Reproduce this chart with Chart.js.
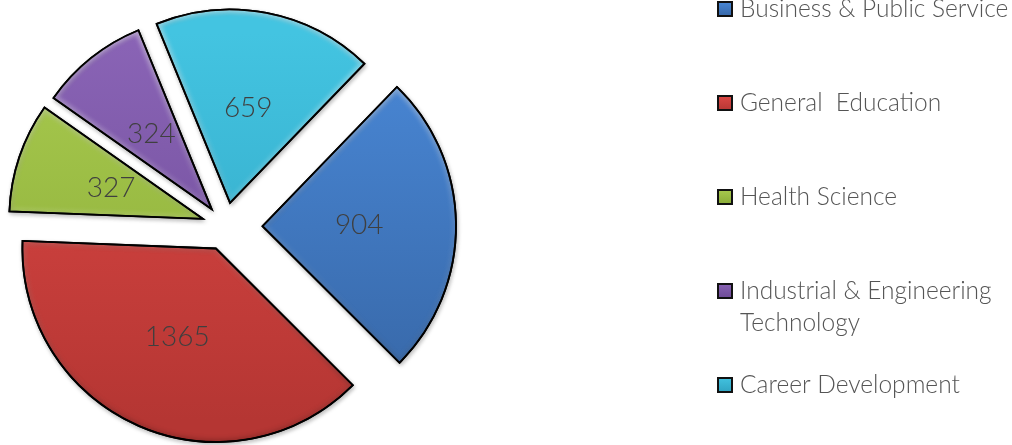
<!DOCTYPE html>
<html><head><meta charset="utf-8">
<script src="https://cdn.jsdelivr.net/npm/chart.js@4/dist/chart.umd.min.js"></script>
<style>html,body{margin:0;padding:0;background:#fff;overflow:hidden}#wrap{width:1012px;height:445px;position:relative}</style>
</head><body><div id="wrap"><canvas id="c" width="1012" height="445"></canvas></div>
<script>
const categories = ['Business & Public Service', 'General  Education', 'Health Science', ['Industrial & Engineering', 'Technology'], 'Career Development'];
const values = [904, 1365, 327, 324, 659];
const topColors = ['#4a89d8', '#df4946', '#a9cb4f', '#8a64b6', '#43c4e1'];
const bottomColors = ['#3665a4', '#b53633', '#88a936', '#6b4994', '#2fa2c0'];
const explodeDist = [37, 24, 24, 22, 24];

const PIE_R = 193.5;
const FONT = 'Lato, "Open Sans", sans-serif';

function sliceGradient(c) {
  const i = c.dataIndex;
  const chart = c.chart, a = chart.chartArea;
  if (!a || i === undefined) return topColors[i || 0];
  const cy = (a.top + a.bottom) / 2;
  const g = chart.ctx.createLinearGradient(0, cy - PIE_R, 0, cy + PIE_R);
  g.addColorStop(0, topColors[i]);
  g.addColorStop(1, bottomColors[i]);
  return g;
}

const explodePlugin = {
  id: 'explode',
  afterDatasetUpdate(chart, args) {
    args.meta.data.forEach((arc, i) => {
      const mid = (arc.startAngle + arc.endAngle) / 2;
      const d = explodeDist[i] || 0;
      arc.x += Math.cos(mid) * d;
      arc.y += Math.sin(mid) * d;
    });
  }
};

const shadowPlugin = {
  id: 'shadow',
  beforeDatasetDraw(chart) {
    const ctx = chart.ctx;
    ctx.save();
    ctx.shadowColor = 'rgba(0,0,0,0.25)';
    ctx.shadowBlur = 4;
    ctx.shadowOffsetX = 1;
    ctx.shadowOffsetY = 2;
  },
  afterDatasetDraw(chart) { chart.ctx.restore(); }
};

function arcPath(ctx, arc) {
  ctx.beginPath();
  ctx.moveTo(arc.x, arc.y);
  ctx.arc(arc.x, arc.y, arc.outerRadius, arc.startAngle, arc.endAngle);
  ctx.closePath();
}

const bevelPlugin = {
  id: 'bevel',
  afterDatasetDraw(chart, args) {
    const ctx = chart.ctx;
    args.meta.data.forEach((arc) => {
      ctx.save();
      arcPath(ctx, arc);
      ctx.clip();
      const g = ctx.createLinearGradient(0, arc.y - arc.outerRadius, 0, arc.y + arc.outerRadius);
      g.addColorStop(0, 'rgba(255,255,255,0.45)');
      g.addColorStop(0.5, 'rgba(255,255,255,0.12)');
      g.addColorStop(1, 'rgba(0,0,0,0.15)');
      ctx.filter = 'blur(2px)';
      ctx.lineWidth = 7;
      ctx.lineJoin = 'miter';
      ctx.strokeStyle = g;
      arcPath(ctx, arc);
      ctx.stroke();
      ctx.restore();
      ctx.save();
      ctx.lineWidth = 1.8;
      ctx.lineJoin = 'miter';
      ctx.strokeStyle = '#000';
      arcPath(ctx, arc);
      ctx.stroke();
      ctx.restore();
    });
  }
};

const valueLabels = {
  id: 'valueLabels',
  afterDatasetsDraw(chart) {
    const ctx = chart.ctx;
    const meta = chart.getDatasetMeta(0);
    ctx.save();
    ctx.font = '300 28px ' + FONT;
    ctx.fillStyle = '#3f3f3f';
    ctx.textAlign = 'center';
    ctx.textBaseline = 'middle';
    meta.data.forEach((arc, i) => {
      const p = arc.tooltipPosition();
      ctx.fillText(String(values[i]), p.x, p.y);
    });
    ctx.restore();
  }
};

const sideLegend = {
  id: 'sideLegend',
  afterDraw(chart, args, o) {
    const ctx = chart.ctx;
    ctx.save();
    ctx.font = '300 24.5px ' + FONT;
    ctx.textBaseline = 'middle';
    ctx.textAlign = 'left';
    chart.data.labels.forEach((lab, i) => {
      const lines = Array.isArray(lab) ? lab : [lab];
      const cy = o.top + i * o.step;
      const s = o.box;
      const bx = o.boxX, by = cy - s / 2;
      const g = ctx.createLinearGradient(0, by, 0, by + s);
      g.addColorStop(0, topColors[i]);
      g.addColorStop(1, bottomColors[i]);
      ctx.fillStyle = '#111';
      ctx.fillRect(bx, by, s, s);
      ctx.fillStyle = g;
      ctx.fillRect(bx + 2, by + 2, s - 4, s - 4);
      ctx.fillStyle = '#555555';
      lines.forEach((t, j) => ctx.fillText(t, o.textX, cy + j * o.lineH));
    });
    ctx.restore();
  }
};

new Chart(document.getElementById('c'), {
  type: 'pie',
  data: {
    labels: categories,
    datasets: [{
      data: values,
      backgroundColor: sliceGradient,
      borderColor: '#000',
      borderWidth: 1.8,
      borderJoinStyle: 'miter'
    }]
  },
  options: {
    responsive: false,
    animation: false,
    rotation: 44,
    radius: PIE_R,
    layout: { padding: { left: 0, top: 8, right: 561, bottom: 0 } },
    plugins: {
      legend: { display: false },
      tooltip: { enabled: false },
      sideLegend: { top: 9, step: 94, box: 16, boxX: 717, textX: 740, lineH: 32 }
    }
  },
  plugins: [explodePlugin, shadowPlugin, bevelPlugin, valueLabels, sideLegend]
});
</script>
</body></html>
